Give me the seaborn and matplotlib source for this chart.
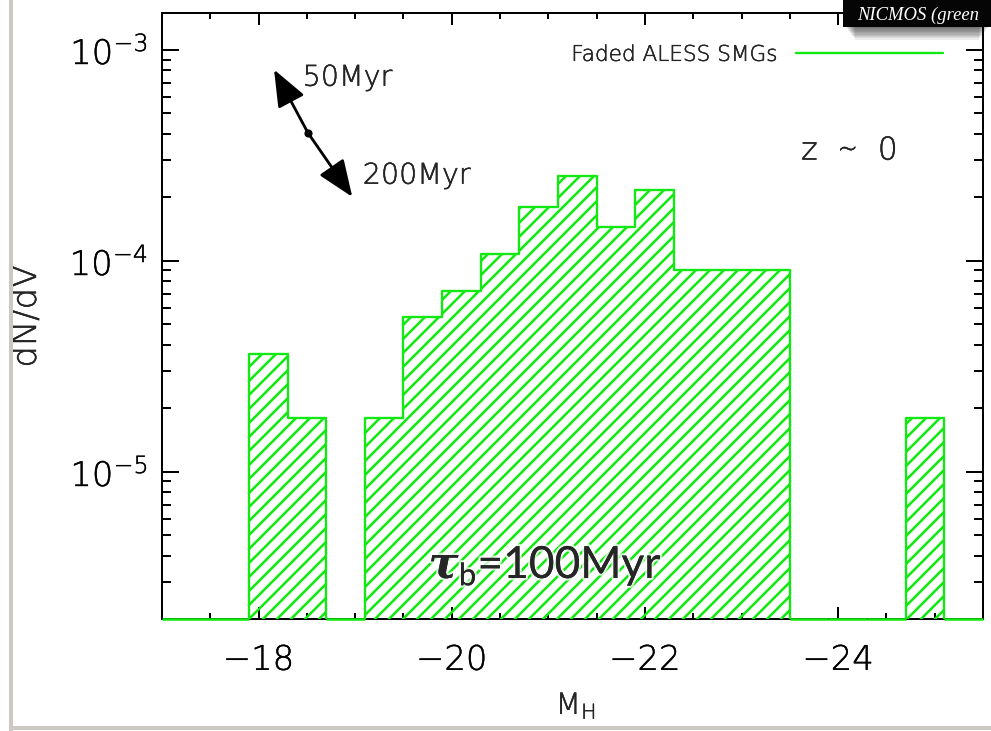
import numpy as np
import matplotlib
matplotlib.use("Agg")
import matplotlib.pyplot as plt
import seaborn as sns
from matplotlib.lines import Line2D
from matplotlib.patches import Rectangle
from matplotlib.ticker import MultipleLocator, LogLocator, NullFormatter
import matplotlib.patheffects as pe

# H-band absolute magnitude bins and space density of faded ALESS SMGs (z ~ 0)
bin_edges = [-25.1, -24.7, -24.3, -23.9, -23.5, -23.1, -22.7, -22.3, -21.9,
             -21.5, -21.1, -20.7, -20.3, -19.9, -19.5, -19.1, -18.7, -18.3, -17.9]
number_density = [1.8e-5, 0.0, 0.0, 0.0, 9.0e-5, 9.0e-5, 9.0e-5, 2.16e-4, 1.44e-4,
                  2.52e-4, 1.8e-4, 1.08e-4, 7.2e-5, 5.4e-5, 1.8e-5, 0.0, 1.8e-5, 3.6e-5]

x_ticks = [-18, -20, -22, -24]
x_tick_labels = ["\u221218", "\u221220", "\u221222", "\u221224"]
y_ticks = [1e-5, 1e-4, 1e-3]
y_tick_labels = [r"$\mathregular{10^{-5}}$", r"$\mathregular{10^{-4}}$", r"$\mathregular{10^{-3}}$"]

# age-shift arrow: centre point and the two arrow tips (M_H, dN/dV)
arrow_centre = (-18.51, 4.05e-4)
arrow_young = (-18.16, 8.06e-4)
arrow_old = (-18.97, 2.01e-4)

GREEN = "#12e812"
DPI = 84

sns.set_style("ticks")
plt.rcParams["font.family"] = ["DejaVu Sans"]
plt.rcParams["font.weight"] = "light"
plt.rcParams["axes.labelweight"] = "light"
plt.rcParams["hatch.linewidth"] = 2.2
plt.rcParams["hatch.color"] = GREEN
plt.rcParams["mathtext.fontset"] = "custom"
plt.rcParams["mathtext.bfit"] = "DejaVu Serif:bold:italic"
plt.rcParams["mathtext.rm"] = "DejaVu Sans"

# thin pen outline so the light glyphs read like plotter strokes
INK = [pe.withStroke(linewidth=0.35, foreground="black")]

fig = plt.figure(figsize=(991 / DPI, 731 / DPI), dpi=DPI, facecolor="white")
ax = fig.add_axes([162 / 991, 1 - 619.3 / 731, 821 / 991, 606.6 / 731])
ax.set_facecolor("white")

edges = np.asarray(bin_edges)
centres = 0.5 * (edges[:-1] + edges[1:])
dens = np.asarray(number_density)

sns.histplot(x=list(centres), weights=number_density, bins=bin_edges, element="step",
             fill=True, color=GREEN, facecolor="none", edgecolor=GREEN, hatch="//",
             linewidth=2.0, ax=ax, zorder=3)

ax.set_yscale("log")
y_floor, y_top = 2.0e-6, 1.5e-3
x_left, x_right = -17.0, -25.5
ax.set_ylim(y_floor, y_top)
ax.set_xlim(x_left, x_right)

# empty bins rest on the floor of the plot
empty = dens == 0
for i in np.where(empty)[0]:
    ax.hlines(y_floor, edges[i], edges[i + 1], color=GREEN, lw=2.2, zorder=4, clip_on=False)
ax.hlines(y_floor, edges[-1], x_left, color=GREEN, lw=2.2, zorder=4, clip_on=False)
ax.hlines(y_floor, x_right, edges[0], color=GREEN, lw=2.2, zorder=4, clip_on=False)

# axes frame and ticks
for s in ax.spines.values():
    s.set_linewidth(1.7)
    s.set_color("black")
    s.set_visible(True)
ax.set_xticks(x_ticks)
ax.set_xticklabels(x_tick_labels)
ax.xaxis.set_minor_locator(MultipleLocator(0.5))
ax.set_yticks(y_ticks)
ax.set_yticklabels(y_tick_labels)
ax.yaxis.set_minor_locator(LogLocator(base=10, subs=np.arange(2, 10)))
ax.yaxis.set_minor_formatter(NullFormatter())
ax.tick_params(axis="both", which="both", direction="in", top=True, right=True,
               width=1.7, colors="black")
ax.tick_params(axis="x", which="major", length=10.5, pad=21, labelsize=29)
ax.tick_params(axis="x", which="minor", length=5.5)
ax.tick_params(axis="y", which="major", length=14.5, pad=12, labelsize=29)
ax.tick_params(axis="y", which="minor", length=7.5)
for lab in ax.get_xticklabels() + ax.get_yticklabels():
    lab.set_path_effects(INK)

xl = ax.set_xlabel(r"$\mathregular{M_H}$", fontsize=25)
ax.xaxis.set_label_coords(0.504, -0.118)
yl = ax.set_ylabel("dN/dV", fontsize=29)
ax.yaxis.set_label_coords(-0.145, 0.5)
xl.set_path_effects(INK)
yl.set_path_effects(INK)

# legend: label followed by the line sample
handle = Line2D([], [], color=GREEN, lw=2.0)
leg = ax.legend([handle], ["Faded ALESS SMGs"], loc="upper right", markerfirst=False,
                frameon=False, fontsize=18.5, handlelength=6.8, handletextpad=0.85,
                borderpad=0, bbox_to_anchor=(0.951, 0.947), borderaxespad=0)
for t in leg.get_texts():
    t.set_path_effects(INK)

# age-shift arrows
arrow_kw = dict(arrowstyle="-|>,head_length=1.5,head_width=0.6", color="black",
                lw=2.4, shrinkA=0, shrinkB=0, mutation_scale=18)
ax.annotate("", xy=arrow_young, xytext=arrow_centre, arrowprops=arrow_kw, zorder=5)
ax.annotate("", xy=arrow_old, xytext=arrow_centre, arrowprops=arrow_kw, zorder=5)
ax.plot([arrow_centre[0]], [arrow_centre[1]], "o", color="black", ms=6, zorder=6)
ax.text(-18.456, 6.76e-4, "50Myr", fontsize=24.5, va="baseline", ha="left",
        path_effects=INK)
ax.text(-19.078, 2.32e-4, "200Myr", fontsize=24.5, va="baseline", ha="left",
        path_effects=INK)

ax.text(-23.617, 3.02e-4, "z  \u223c  0", fontsize=27, va="baseline", ha="left",
        path_effects=INK)

tau = ax.text(-20.97, 3.13e-6, r"$\mathbfit{\tau}_{\mathregular{b}}$=100Myr",
              fontsize=38, va="baseline", ha="center", family=["Lato", "DejaVu Sans"],
              weight="normal", zorder=7)
tau.set_path_effects([pe.withStroke(linewidth=4, foreground="white", alpha=0.75),
                      pe.Normal()])

# slide frame around the figure
fig.add_artist(Rectangle((9 / 991, 0), 4 / 991, 1, transform=fig.transFigure,
                         facecolor="#cbc9c1", edgecolor="none"))
fig.add_artist(Rectangle((9 / 991, 1 - 730 / 731), 982 / 991, 4 / 731,
                         transform=fig.transFigure, facecolor="#cbc9c1", edgecolor="none"))

# caption tab in the top-right corner with its drop shadow
for k in range(10):
    fig.add_artist(Rectangle(((846 + k) / 991, 1 - (28 + 1.3 * k) / 731),
                             (142 - 2 * k) / 991, (1.3 * k + 1) / 731,
                             transform=fig.transFigure, facecolor="black",
                             alpha=0.07, edgecolor="none", zorder=9))
fig.add_artist(Rectangle((843 / 991, 1 - 27 / 731), 148 / 991, 27 / 731,
                         transform=fig.transFigure, facecolor="#050505",
                         edgecolor="none", zorder=10))
fig.text(857 / 991, 1 - 20 / 731, "NICMOS (green", color="white", fontsize=16,
         family=["Liberation Serif", "DejaVu Serif"], style="italic",
         weight="normal", va="baseline", ha="left", zorder=11)

fig.savefig("out.png", dpi=DPI, facecolor="white")
